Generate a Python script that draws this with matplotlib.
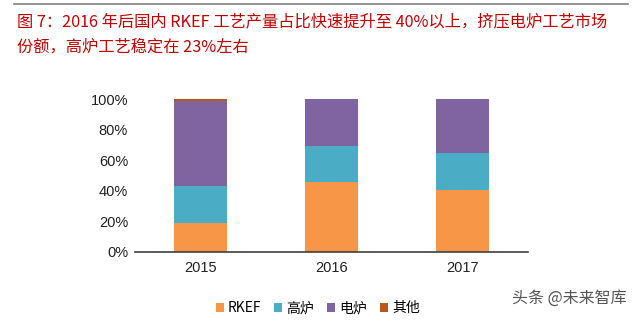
import matplotlib
matplotlib.use("Agg")
import matplotlib.pyplot as plt
import numpy as np

plt.rcParams['font.family'] = ['Liberation Sans', 'Noto Sans CJK SC', 'DejaVu Sans']

years = ["2015", "2016", "2017"]
rkef = [18.7, 45.6, 40.4]
gaolu = [24.1, 23.9, 24.3]
dianlu = [55.9, 30.5, 35.3]
other = [1.3, 0.0, 0.0]
series_names = ["RKEF", "高炉", "电炉", "其他"]
colors = ["#F79646", "#4BACC6", "#8064A2", "#B6581E"]

title_lines = ["图 7：2016 年后国内 RKEF 工艺产量占比快速提升至 40%以上，挤压电炉工艺市场",
               "份额，高炉工艺稳定在 23%左右"]

fig = plt.figure(figsize=(6.4, 3.24), dpi=100)
ax = fig.add_axes([135/640, 1 - 251.7/324, (528-135)/640, (251.7-99.3)/324])

x = np.arange(len(years))
bottom = np.zeros(len(years))
for name, vals, c in zip(series_names, [rkef, gaolu, dianlu, other], colors):
    v = np.array(vals) / 100
    ax.bar(x, v, width=0.4, bottom=bottom, color=c, label=name)
    bottom += v

ax.set_xlim(-0.5, 2.5)
ax.set_ylim(0, 1)
ax.set_yticks(np.arange(0, 1.01, 0.2))
ax.set_yticklabels([f"{int(round(t*100))}%" for t in np.arange(0, 1.01, 0.2)])
ax.set_xticks(x)
ax.set_xticklabels(years)
ax.tick_params(length=0, labelsize=10.5, colors="#222222")
ax.tick_params(axis='x', pad=7)
ax.tick_params(axis='y', pad=5)
for s in ["top", "right", "left"]:
    ax.spines[s].set_visible(False)
ax.spines["bottom"].set_color("#404040")
ax.spines["bottom"].set_linewidth(1.2)

ax.legend(loc="center", bbox_to_anchor=(0.465, -0.37), ncol=4, frameon=False,
          handlelength=0.6, handleheight=0.6, handletextpad=0.3, columnspacing=0.9,
          prop={'family': ['Noto Sans CJK SC'], 'size': 10})

# top rule and title
fig.add_artist(plt.Line2D([14/640, 628/640], [1 - 3.5/324]*2, color="#808080", lw=1.2))
fig.text(17/640, 1 - 22/324, title_lines[0], color="#C00000", fontsize=11.7,
         family=['Noto Sans CJK SC'], weight='medium', va="center", ha="left")
fig.text(17/640, 1 - 47/324, title_lines[1], color="#C00000", fontsize=11.7,
         family=['Noto Sans CJK SC'], weight='medium', va="center", ha="left")

fig.text(627/640, 1 - 298/324, "头条 @未来智库", color="#555555", fontsize=11.5,
         family=['Noto Sans CJK SC'], weight='light', va="center", ha="right")

fig.savefig("out.png", dpi=100)
